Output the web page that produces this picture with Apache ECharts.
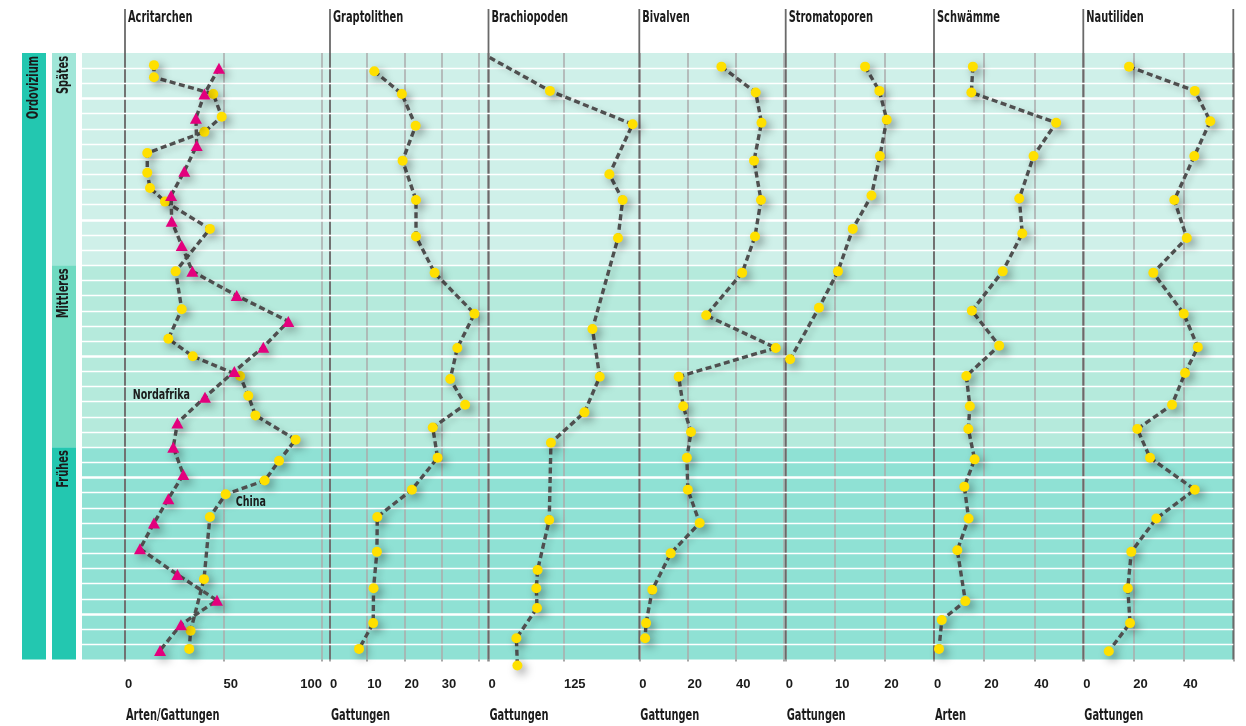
<!DOCTYPE html>
<html>
<head>
<meta charset="utf-8">
<title>Ordovizium – Diversität</title>
<script src="https://cdn.jsdelivr.net/npm/echarts@6/dist/echarts.min.js"></script>
<style>
  html, body { margin: 0; padding: 0; background: #ffffff; }
  #chart { width: 1246px; height: 726px; }
</style>
</head>
<body>
<div id="chart"></div>
<script>
// ---- Zeitskala: 40 Zeitscheiben, 0 = Beginn des Ordoviziums (unten), 40 = Ende (oben)
const ROWS = 40;
const periodName = 'Ordovizium';
const stageNames = ['Frühes', 'Mittleres', 'Spätes'];
const stageBounds = [[0, 14], [14, 26], [26, 40]];
const thickRows = [3, 12, 20, 29, 37];

// ---- Panels
const panelTitles = ['Acritarchen', 'Graptolithen', 'Brachiopoden', 'Bivalven', 'Stromatoporen', 'Schwämme', 'Nautiliden'];
const panelUnits = ['Arten/Gattungen', 'Gattungen', 'Gattungen', 'Gattungen', 'Gattungen', 'Arten', 'Gattungen'];
const panelMax = [104, 42.5, 250, 60, 30, 59.5, 60];
const panelStep = [50, 10, 125, 20, 10, 20, 20];
const panelTickLabels = [[0, 50, 100], [0, 10, 20, 30], [0, 125], [0, 20, 40], [0, 10, 20], [0, 20, 40], [0, 20, 40]];
const rightAlignedLabels = [[100], [], [], [], [], [], []];

// ---- Werte: [Anzahl, Zeitscheibe]
const acritarchenChina = [
  [14.7, 39.2], [14.7, 38.4], [44.8, 37.3], [49.1, 35.8], [40.3, 34.8], [11.3, 33.4], [11.3, 32.1],
  [12.7, 31.1], [20.3, 30.2], [43.1, 28.4], [25.7, 25.6], [28.8, 23.1], [22.0, 21.15], [34.4, 20.0],
  [58.4, 18.7], [62.6, 17.4], [66.2, 16.1], [86.6, 14.5], [78.2, 13.1], [70.9, 11.8], [51.1, 10.9],
  [43.1, 9.4], [40.1, 5.3], [33.3, 1.9], [32.6, 0.7]
];
const acritarchenNordafrika = [
  [47.7, 39.0], [40.3, 37.3], [36.0, 35.7], [36.4, 33.9], [30.1, 32.2], [23.4, 30.6], [23.7, 28.9],
  [28.8, 27.3], [34.2, 25.6], [56.7, 24.0], [82.9, 22.3], [70.2, 20.6], [55.5, 19.0], [40.6, 17.3],
  [26.6, 15.6], [24.5, 14.0], [29.6, 12.2], [22.0, 10.6], [14.7, 9.0], [7.6, 7.3], [26.6, 5.6],
  [46.7, 3.9], [28.4, 2.3], [17.8, 0.6]
];
const graptolithen = [
  [11.9, 38.8], [19.3, 37.3], [23.0, 35.2], [19.5, 32.9], [23.1, 30.3], [23.1, 27.9], [28.1, 25.5],
  [38.8, 22.8], [34.2, 20.55], [32.3, 18.5], [36.3, 16.8], [27.6, 15.3], [28.9, 13.3], [22.0, 11.2],
  [12.7, 9.4], [12.6, 7.1], [11.7, 4.7], [11.6, 2.4], [7.8, 0.7]
];
const brachiopoden = [
  [2, 39.7], [101.9, 37.5], [238.9, 35.3], [200.4, 32.0], [222.4, 30.3], [214.7, 27.8], [172.3, 21.8],
  [184.4, 18.65], [159.1, 16.3], [103.5, 14.3], [100.7, 9.2], [81.4, 5.9], [79.3, 4.7], [80.4, 3.4],
  [46.2, 1.4], [47.9, -0.4]
];
const brachiopodenUnmarked = [0];
const bivalven = [
  [34.0, 39.1], [48.2, 37.4], [50.6, 35.4], [47.5, 32.9], [50.4, 30.3], [47.9, 27.9], [42.6, 25.5],
  [27.7, 22.7], [56.5, 20.55], [16.3, 18.65], [18.2, 16.7], [21.4, 15.0], [19.7, 13.3], [20.1, 11.2],
  [25.0, 9.0], [13.0, 7.0], [5.4, 4.6], [2.8, 2.4], [2.4, 1.4]
];
const stromatoporen = [
  [16.1, 39.1], [19.0, 37.5], [20.5, 35.6], [19.1, 33.2], [17.4, 30.6], [13.6, 28.4], [10.6, 25.6],
  [6.75, 23.2], [0.9, 19.8]
];
const schwaemme = [
  [15.5, 39.1], [14.9, 37.4], [48.7, 35.4], [39.7, 33.2], [34.0, 30.4], [35.2, 28.1], [27.4, 25.6],
  [15.1, 23.0], [26.0, 20.7], [12.9, 18.7], [14.3, 16.7], [13.7, 15.2], [16.2, 13.2], [12.1, 11.4],
  [13.8, 9.3], [9.3, 7.2], [12.5, 3.85], [3.1, 2.6], [2.0, 0.7]
];
const nautiliden = [
  [18.3, 39.1], [44.6, 37.5], [50.8, 35.5], [44.4, 33.2], [36.4, 30.3], [41.4, 27.8], [28.0, 25.5],
  [40.2, 22.8], [45.8, 20.6], [40.7, 18.9], [35.5, 16.8], [21.6, 15.2], [26.7, 13.3], [44.6, 11.2],
  [29.2, 9.3], [19.2, 7.1], [17.8, 4.7], [18.7, 2.4], [10.2, 0.55]
];

// Which point of a curve carries its region name
const regionLabelIndex = { 'China': 20, 'Nordafrika': 13 };

const panelSeries = [
  [{ name: 'China', data: acritarchenChina, kind: 'dot' },
   { name: 'Nordafrika', data: acritarchenNordafrika, kind: 'tri' }],
  [{ name: 'Graptolithen', data: graptolithen, kind: 'dot' }],
  [{ name: 'Brachiopoden', data: brachiopoden, kind: 'dot', unmarked: brachiopodenUnmarked }],
  [{ name: 'Bivalven', data: bivalven, kind: 'dot' }],
  [{ name: 'Stromatoporen', data: stromatoporen, kind: 'dot' }],
  [{ name: 'Schwämme', data: schwaemme, kind: 'dot' }],
  [{ name: 'Nautiliden', data: nautiliden, kind: 'dot' }]
];

// ---- Layout & styles
const TOP = 53, PLOT_BOTTOM = 659.5, BG_LEFT = 82;
const PANEL_LEFT = [125, 330, 488.5, 639.3, 785.7, 934, 1083.3];
const PANEL_UNIT_PX = [1.97, 3.723, 0.6032, 2.415, 4.93, 2.5075, 2.5];
const BG_RIGHT = PANEL_LEFT[6] + panelMax[6] * PANEL_UNIT_PX[6];
const stageFill = ['#8fe1d4', '#b5eadc', '#cff0e9'];
const stageBar = ['#23c7b0', '#6fdac1', '#a0e6d8'];
const periodBar = '#23c7b0';
const FONT = '"Liberation Sans", Arial, sans-serif';
const TEXT_FONT = '"DejaVu Sans Condensed", "DejaVu Sans", sans-serif';
const NARROW = 0.73;          // horizontal squeeze for a condensed look
const INK = '#1b1b1b';
const DOT = '#ffe000';
const TRI = '#e3007d';
const LINE = '#4f4f4f';

const chart = echarts.init(document.getElementById('chart'), null, { renderer: 'canvas' });

const plotH = PLOT_BOTTOM - TOP;
const grid = [{ left: BG_LEFT, top: TOP, width: BG_RIGHT - BG_LEFT, height: plotH, outerBoundsMode: 'none', containLabel: false }];
const xAxis = [{ gridIndex: 0, type: 'value', min: 0, max: 1, show: false }];
const yAxis = [{ gridIndex: 0, type: 'value', min: 0, max: ROWS, show: false }];

const rowLines = [];
for (let r = 1; r < ROWS; r++) rowLines.push(r);

const series = [
  {
    type: 'line', xAxisIndex: 0, yAxisIndex: 0, data: [], z: 0, silent: true, animation: false,
    markArea: {
      silent: true, animation: false,
      data: stageBounds.map((b, i) => [{ yAxis: b[0], itemStyle: { color: stageFill[i] } }, { yAxis: b[1] }])
    }
  },
  {
    type: 'line', xAxisIndex: 0, yAxisIndex: 0, data: [], z: 1, silent: true, animation: false,
    markLine: {
      silent: true, animation: false, symbol: ['none', 'none'], label: { show: false },
      data: rowLines.map(r => ({
        yAxis: r,
        lineStyle: { color: '#ffffff', width: thickRows.includes(r) ? 2.6 : 1.3, type: 'solid', opacity: 1 }
      }))
    }
  }
];

const tickFont = { fontFamily: FONT, fontWeight: 'bold', fontSize: 13, color: INK };

panelTitles.forEach((title, i) => {
  const g = i + 1;
  grid.push({
    left: PANEL_LEFT[i], top: TOP, width: panelMax[i] * PANEL_UNIT_PX[i], height: plotH,
    outerBoundsMode: 'none', containLabel: false
  });
  xAxis.push({
    gridIndex: g, type: 'value', min: 0, max: panelMax[i], interval: panelStep[i],
    position: 'bottom', offset: 7, z: 2,
    axisLine: { show: false },
    axisTick: { show: true, length: 2, lineStyle: { color: '#8a8a8a', width: 1.5 } },
    splitLine: { show: true, lineStyle: { color: '#ababab', width: 1.5 } },
    axisLabel: Object.assign({
      margin: 11, align: 'left',
      formatter: v => (panelTickLabels[i].includes(v) && !rightAlignedLabels[i].includes(v)) ? String(v) : ''
    }, tickFont)
  });
  yAxis.push({ gridIndex: g, type: 'value', min: 0, max: ROWS, show: false });

  panelSeries[i].forEach((s, k) => {
    const isTri = s.kind === 'tri';
    series.push({
      type: 'line', name: s.name, xAxisIndex: g, yAxisIndex: g,
      z: 5 + k, clip: false, animation: false, silent: true,
      emphasis: { disabled: true },
      symbol: isTri ? 'triangle' : 'circle',
      symbolSize: isTri ? [12, 11] : 10,
      itemStyle: {
        color: isTri ? TRI : DOT,
        shadowColor: 'rgba(0,0,0,0.4)', shadowBlur: 10, shadowOffsetX: 4, shadowOffsetY: 4
      },
      lineStyle: {
        color: LINE, width: 3.4, type: [6, 3.5],
        shadowColor: 'rgba(0,0,0,0.22)', shadowBlur: 6, shadowOffsetX: 3, shadowOffsetY: 3
      },
      data: s.data.map((p, idx) => {
        const item = { value: p };
        if (s.unmarked && s.unmarked.includes(idx)) item.symbol = 'none';
        return item;
      })
    });
  });
});

// right-aligned labels at a panel's right edge
rightAlignedLabels.forEach((vals, i) => {
  if (!vals.length) return;
  xAxis.push({
    gridIndex: i + 1, type: 'value', min: 0, max: panelMax[i], interval: panelStep[i],
    position: 'bottom', offset: 7, z: 2,
    axisLine: { show: false }, axisTick: { show: false }, splitLine: { show: false },
    axisLabel: Object.assign({
      margin: 11, align: 'right',
      formatter: v => vals.includes(v) ? String(v) : ''
    }, tickFont)
  });
});

chart.setOption({
  animation: false,
  backgroundColor: '#ffffff',
  grid, xAxis, yAxis, series
});

// ---- Column headers, axis lines, units, region names and the period/stage columns
const py = r => chart.convertToPixel({ yAxisIndex: 0 }, r);
const yTop = py(ROWS), yBot = py(0);

function text(str, x, y, opts) {
  const o = opts || {};
  return {
    type: 'text', x, y, rotation: o.rotation || 0, scaleX: NARROW, z: 6, silent: true,
    style: {
      text: str, x: 0, y: 0,
      fontFamily: TEXT_FONT, fontWeight: 'bold', fontSize: o.size || 15, fill: INK,
      align: o.align || 'left', verticalAlign: 'middle',
      textAlign: o.align || 'left', textVerticalAlign: 'middle'
    }
  };
}

const elements = [];
elements.push({ type: 'rect', z: 3, silent: true, shape: { x: 22, y: yTop, width: 24, height: yBot - yTop }, style: { fill: periodBar } });
elements.push(text(periodName, 34, yTop + 3, { rotation: Math.PI / 2, align: 'right' }));
stageBounds.forEach((b, i) => {
  const y1 = py(b[1]), y0 = py(b[0]);
  elements.push({ type: 'rect', z: 3, silent: true, shape: { x: 52, y: y1, width: 24, height: y0 - y1 }, style: { fill: stageBar[i] } });
  elements.push(text(stageNames[i], 64, y1 + 3, { rotation: Math.PI / 2, align: 'right' }));
});

const LINE_TOP = 9;
panelTitles.forEach((title, i) => {
  const x0 = chart.convertToPixel({ xAxisIndex: i + 1 }, 0);
  elements.push({ type: 'line', z: 3, silent: true, shape: { x1: x0, y1: LINE_TOP, x2: x0, y2: yBot }, style: { stroke: '#6a6a6a', lineWidth: 1.8 } });
  elements.push(text(title, x0 + 3, 18));
  elements.push(text(panelUnits[i], x0 + 1, 716));
});
const xEnd = chart.convertToPixel({ xAxisIndex: 7 }, panelMax[6]);
elements.push({ type: 'line', z: 3, silent: true, shape: { x1: xEnd, y1: LINE_TOP, x2: xEnd, y2: yBot }, style: { stroke: '#6a6a6a', lineWidth: 1.8 } });

// region names next to their curves
panelSeries[0].forEach(s => {
  const idx = regionLabelIndex[s.name];
  const [px, pyy] = chart.convertToPixel({ gridIndex: 1 }, s.data[idx]);
  if (s.kind === 'tri') elements.push(text(s.name, px - 15, pyy - 1.5, { align: 'right', size: 14.5 }));
  else elements.push(text(s.name, px + 10, pyy + 8.5, { size: 14.5 }));
});

chart.setOption({ graphic: { elements } });
</script>
</body>
</html>
